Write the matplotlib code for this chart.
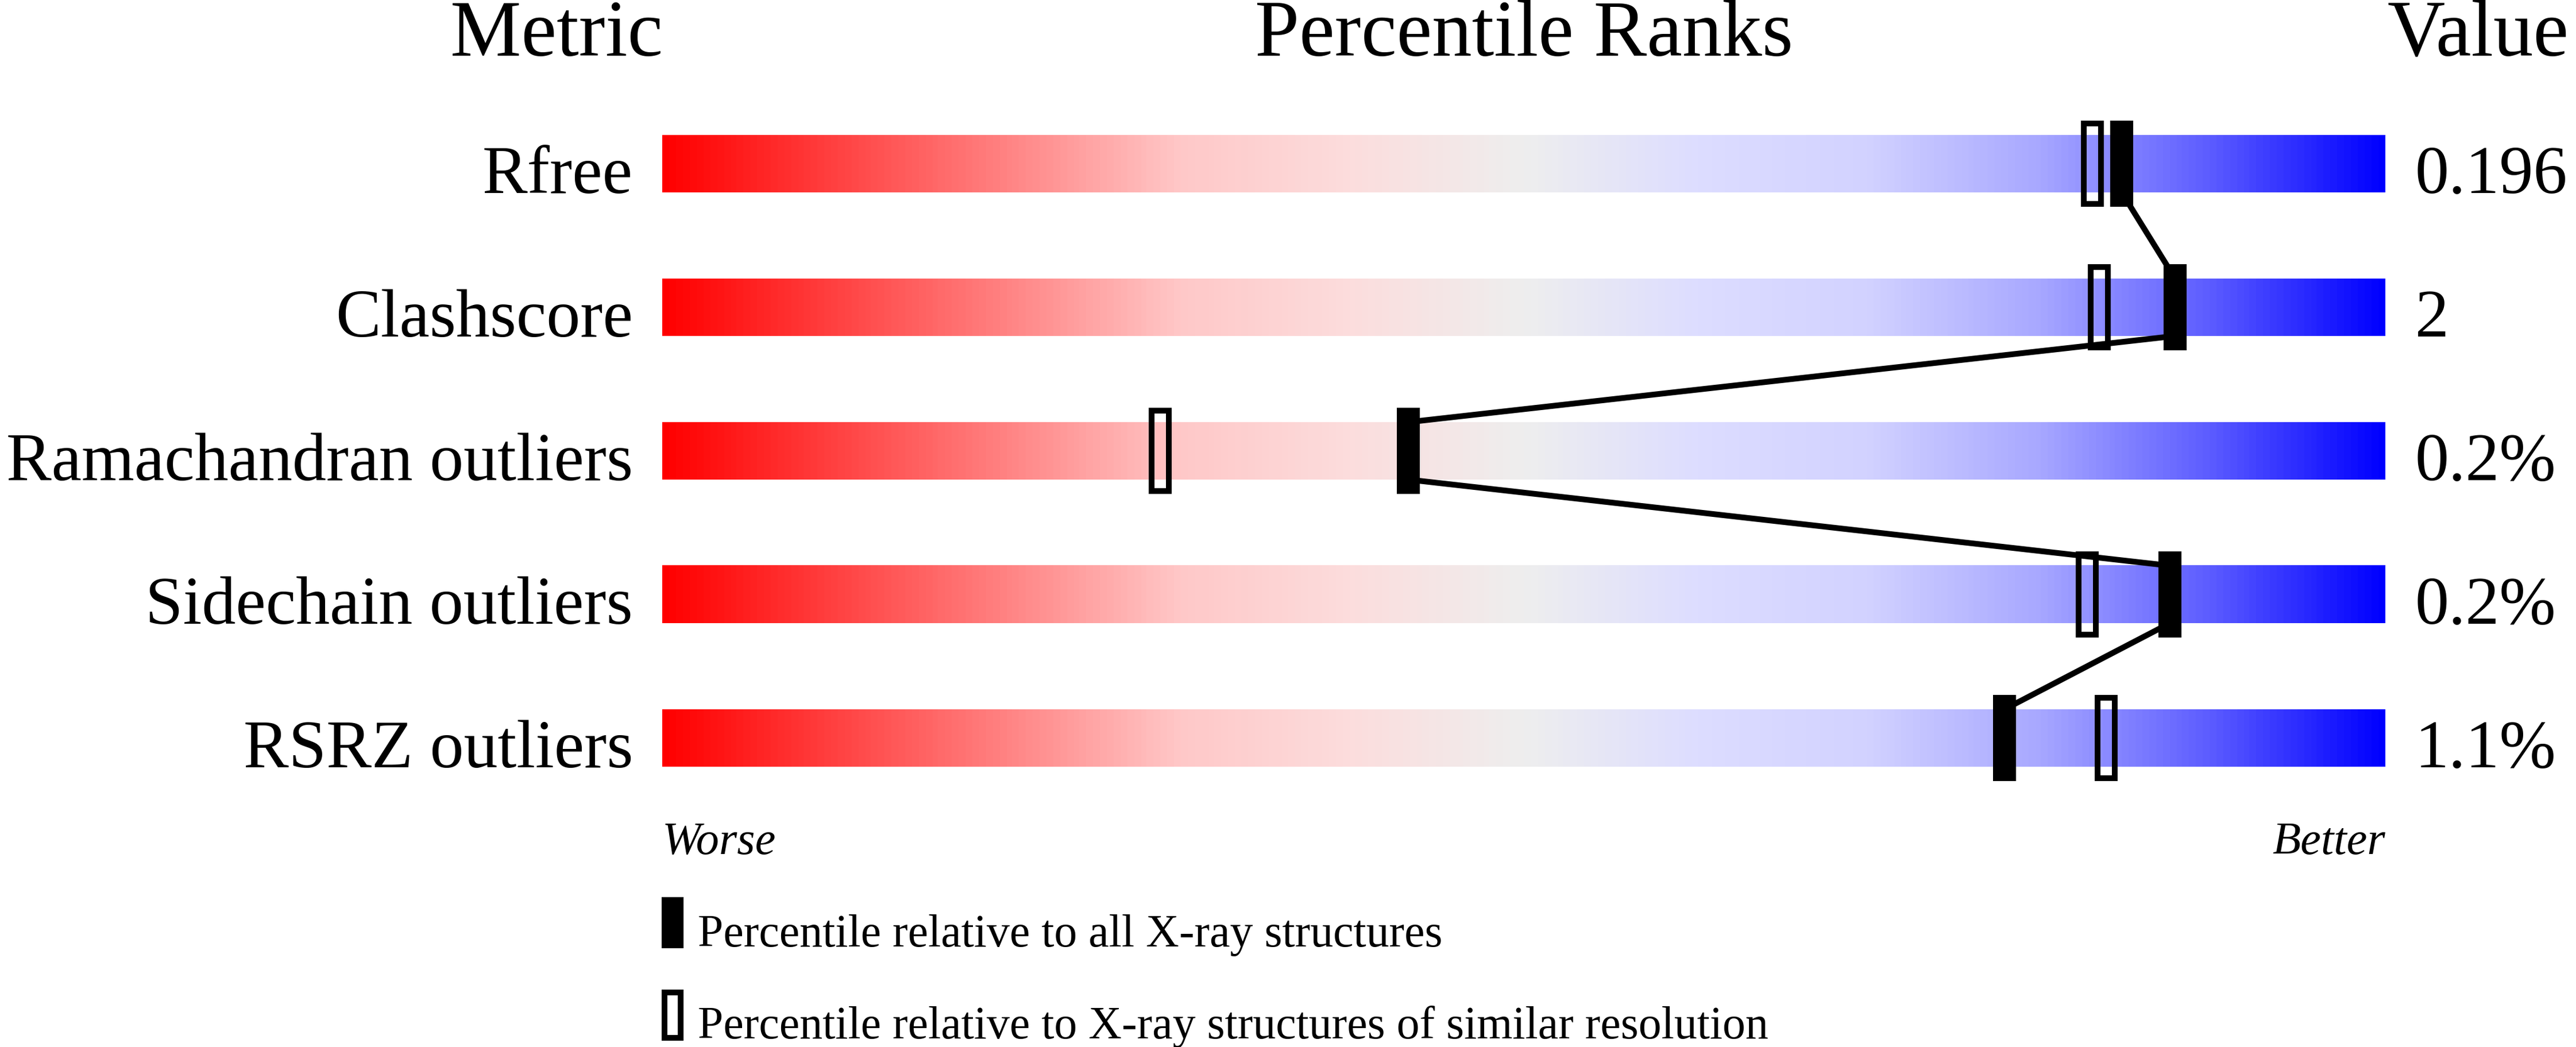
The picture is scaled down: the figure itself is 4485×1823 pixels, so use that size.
import matplotlib
matplotlib.use("Agg")
import matplotlib.pyplot as plt
import numpy as np
from matplotlib.colors import LinearSegmentedColormap
from matplotlib.patches import Rectangle

# data
metrics = ["Rfree", "Clashscore", "Ramachandran outliers", "Sidechain outliers", "RSRZ outliers"]
values = ["0.196", "2", "0.2%", "0.2%", "1.1%"]
pct_all = [84.7, 87.8, 43.3, 87.5, 77.9]        # filled marks
pct_similar = [83.0, 83.4, 28.9, 82.7, 83.8]    # open marks

# colour stops of the slider background
stop_pos = [0.0, 0.10, 0.20, 0.30, 0.40, 0.50, 0.60, 0.70, 0.80, 0.90, 1.0]
stop_rgb = [(255, 0, 0), (255, 66, 66), (255, 132, 132), (255, 200, 200),
            (252, 221, 221), (238, 238, 238), (221, 221, 255), (210, 210, 255),
            (168, 168, 255), (92, 92, 255), (0, 0, 255)]

W, H, DPI = 4485, 1824, 100
fig = plt.figure(figsize=(W / DPI, H / DPI), dpi=DPI)
plt.rcParams['font.family'] = ['Liberation Serif', 'DejaVu Serif']

# axes spans the slider width; x in percent, y in rows
ax = fig.add_axes([1153 / W, 0, 3000 / W, 1])
ax.axis("off")

cmap = LinearSegmentedColormap.from_list(
    "slider", [(p, tuple(c / 255 for c in rgb)) for p, rgb in zip(stop_pos, stop_rgb)])
grad = np.linspace(0, 1, 1000).reshape(1, -1)

bar_h = 0.4
mark_h = 0.6
for i in range(len(metrics)):
    ax.imshow(grad, cmap=cmap, aspect="auto", interpolation="nearest",
              extent=(0, 100, i + bar_h / 2, i - bar_h / 2), zorder=1)

# connecting lines, bar bottom of one row to bar top of the next
for i in range(len(metrics) - 1):
    ax.plot([pct_all[i], pct_all[i + 1]], [i + bar_h / 2, i + 1 - bar_h / 2],
            color="black", lw=7.2, solid_capstyle="butt", zorder=2)

mw = 40 / 30.0   # marker width in percent units
lw_open = 7.2
for i in range(len(metrics)):
    ax.add_patch(Rectangle((pct_all[i] - mw / 2, i - mark_h / 2), mw, mark_h,
                           facecolor="black", edgecolor="none", zorder=3))
    ow = mw - 10 / 30.0
    oh = mark_h - 10 / 250.0
    ax.add_patch(Rectangle((pct_similar[i] - ow / 2, i - oh / 2), ow, oh,
                           facecolor="none", edgecolor="black", lw=lw_open,
                           joinstyle="miter", zorder=3))
    ax.text(-1.7, i + bar_h / 2, metrics[i], ha="right", va="baseline",
            fontsize=85, clip_on=False)
    ax.text(101.73, i + bar_h / 2, values[i], ha="left", va="baseline",
            fontsize=85, clip_on=False)

ax.set_xlim(0, 100)
ax.set_ylim(6.152, -1.144)

# headers
ax.text(0.03, -0.756, "Metric", ha="right", va="baseline", fontsize=100, clip_on=False)
ax.text(50, -0.756, "Percentile Ranks", ha="center", va="baseline", fontsize=100, clip_on=False)
ax.text(100.13, -0.756, "Value", ha="left", va="baseline", fontsize=100, clip_on=False)

ax.text(0, 4.804, "Worse", ha="left", va="baseline", fontsize=58, style="italic", clip_on=False)
ax.text(100, 4.804, "Better", ha="right", va="baseline", fontsize=58, style="italic", clip_on=False)

# legend
ax.add_patch(Rectangle((-0.03, 5.108), 1.26, 0.356, facecolor="black",
                       edgecolor="none", clip_on=False))
ax.add_patch(Rectangle((-0.03 + 5 / 30, 5.752 + 5 / 250), 1.26 - 10 / 30, 0.356 - 10 / 250,
                       facecolor="none", edgecolor="black", lw=lw_open,
                       joinstyle="miter", clip_on=False))
ax.text(2.07, 5.448, "Percentile relative to all X-ray structures",
        ha="left", va="baseline", fontsize=57.5, clip_on=False)
ax.text(2.07, 6.088, "Percentile relative to X-ray structures of similar resolution",
        ha="left", va="baseline", fontsize=57.5, clip_on=False)

fig.savefig("out.png", dpi=DPI, facecolor="white")
